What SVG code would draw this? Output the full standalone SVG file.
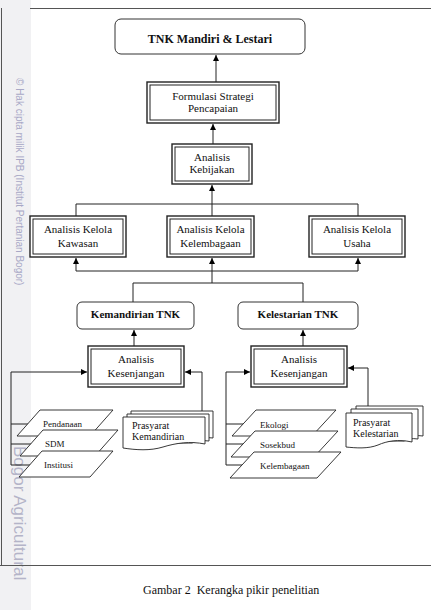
<svg xmlns="http://www.w3.org/2000/svg" width="431" height="610" viewBox="0 0 431 610">
<defs>
<marker id="ah" markerUnits="userSpaceOnUse" markerWidth="7" markerHeight="6" refX="6" refY="3" orient="auto">
<path d="M0,0 L6,3 L0,6 z" fill="#000"/>
</marker>
<style>
.t{font-family:"Liberation Serif","Times New Roman",serif;fill:#111;text-anchor:middle}
.b{font-weight:bold}
.s{font-family:"Liberation Serif","Times New Roman",serif;fill:#111;font-size:9px}
.d{font-family:"Liberation Serif","Times New Roman",serif;fill:#111;font-size:10px}
.o{fill:#fff;stroke:#222;stroke-width:1.4}
.i{fill:none;stroke:#222;stroke-width:1}
.r{fill:#fff;stroke:#333;stroke-width:1}
.c{fill:none;stroke:#222;stroke-width:1}
.p{fill:#fff;stroke:#222;stroke-width:0.9}
</style>
</defs>
<rect width="431" height="610" fill="#fff"/>
<g id="watermark">
<rect x="0" y="0" width="31" height="610" fill="#f1f1f3"/>
<text transform="translate(16,78) rotate(90)" font-family="Liberation Sans,Arial,sans-serif" font-size="10" fill="#a8a8c6">© Hak cipta milik IPB (Institut Pertanian Bogor)</text>
<text transform="translate(14,446) rotate(90)" font-family="Liberation Sans,Arial,sans-serif" font-size="17" fill="#b4b4c8">Bogor Agricultural</text>
</g>
<g id="frame" stroke="#555" stroke-width="1" fill="none">
<line x1="30" y1="8.5" x2="431" y2="8.5"/>
<line x1="1.5" y1="8" x2="1.5" y2="565"/>
<line x1="0" y1="565.5" x2="431" y2="565.5"/>
</g>
<g id="connectors">
<path class="c" d="M216,82 V55" marker-end="url(#ah)"/>
<path class="c" d="M213,144 V124" marker-end="url(#ah)"/>
<path class="c" d="M212,216 V185" marker-end="url(#ah)"/>
<path class="c" d="M76,216 V204 H358 V216"/>
<path class="c" d="M76,271 H358"/>
<path class="c" d="M76,271 V258" marker-end="url(#ah)"/>
<path class="c" d="M358,271 V258" marker-end="url(#ah)"/>
<path class="c" d="M212,283 V258" marker-end="url(#ah)"/>
<path class="c" d="M133,302 V283 H303 V302"/>
<path class="c" d="M134,346 V330" marker-end="url(#ah)"/>
<path class="c" d="M303,346 V330" marker-end="url(#ah)"/>
<path class="c" d="M11,465 V372 H87" marker-end="url(#ah)"/>
<path class="c" d="M11,424 H30 M11,444 H32 M11,465 H32"/>
<path class="c" d="M202,411 V372 H185" marker-end="url(#ah)"/>
<path class="c" d="M226,465 V372 H250" marker-end="url(#ah)"/>
<path class="c" d="M226,424 H245 M226,444 H245 M226,465 H245"/>
<path class="c" d="M368,406 V368 H348" marker-end="url(#ah)"/>
</g>
<g id="n-tnk">
<rect class="r" x="115" y="19" width="190" height="35" rx="6"/>
<text class="t b" x="210" y="43" font-size="12">TNK Mandiri &amp; Lestari</text>
</g>
<g id="n-formulasi">
<rect class="o" x="147" y="82" width="132" height="41"/>
<rect class="i" x="150" y="85" width="126" height="35"/>
<text class="t" x="213" y="100" font-size="11">Formulasi Strategi</text>
<text class="t" x="213" y="112" font-size="11">Pencapaian</text>
</g>
<g id="n-kebijakan">
<rect class="o" x="172" y="144" width="80" height="40"/>
<rect class="i" x="175" y="147" width="74" height="34"/>
<text class="t" x="212" y="161" font-size="11">Analisis</text>
<text class="t" x="212" y="173" font-size="11">Kebijakan</text>
</g>
<g id="n-kawasan">
<rect class="o" x="30" y="216" width="96" height="41"/>
<rect class="i" x="33" y="219" width="90" height="35"/>
<text class="t" x="78" y="233" font-size="11">Analisis Kelola</text>
<text class="t" x="78" y="247" font-size="11">Kawasan</text>
</g>
<g id="n-kelembagaan">
<rect class="o" x="167" y="216" width="87" height="41"/>
<rect class="i" x="170" y="219" width="81" height="35"/>
<text class="t" x="210.5" y="233" font-size="11">Analisis Kelola</text>
<text class="t" x="210.5" y="247" font-size="11">Kelembagaan</text>
</g>
<g id="n-usaha">
<rect class="o" x="309" y="216" width="96" height="41"/>
<rect class="i" x="312" y="219" width="90" height="35"/>
<text class="t" x="357" y="233" font-size="11">Analisis Kelola</text>
<text class="t" x="357" y="247" font-size="11">Usaha</text>
</g>
<g id="n-kemandirian">
<rect class="r" x="77" y="302" width="117" height="27" rx="5"/>
<text class="t b" x="135.5" y="318" font-size="11">Kemandirian TNK</text>
</g>
<g id="n-kelestarian">
<rect class="r" x="238" y="302" width="120" height="27" rx="5"/>
<text class="t b" x="298" y="318" font-size="11">Kelestarian TNK</text>
</g>
<g id="n-kesenjangan-l">
<rect class="o" x="88" y="346" width="96" height="41"/>
<rect class="i" x="91" y="349" width="90" height="35"/>
<text class="t" x="136" y="363" font-size="11">Analisis</text>
<text class="t" x="136" y="377" font-size="11">Kesenjangan</text>
</g>
<g id="n-kesenjangan-r">
<rect class="o" x="251" y="346" width="96" height="41"/>
<rect class="i" x="254" y="349" width="90" height="35"/>
<text class="t" x="299" y="363" font-size="11">Analisis</text>
<text class="t" x="299" y="377" font-size="11">Kesenjangan</text>
</g>
<g id="n-pendanaan">
<path class="p" d="M40,410 H113 L90,436 H17 Z"/>
<text class="s" x="43" y="427">Pendanaan</text>
</g>
<g id="n-sdm">
<path class="p" d="M43,430 H118 L95,456 H20 Z"/>
<text class="s" x="45" y="447">SDM</text>
</g>
<g id="n-institusi">
<path class="p" d="M42,451 H113 L90,477 H19 Z"/>
<text class="s" x="44" y="468">Institusi</text>
</g>
<g id="n-ekologi">
<path class="p" d="M256,410 H336 L312,436 H232 Z"/>
<text class="s" x="260" y="428">Ekologi</text>
</g>
<g id="n-sosekbud">
<path class="p" d="M255,431 H338 L314,457 H231 Z"/>
<text class="s" x="260" y="448">Sosekbud</text>
</g>
<g id="n-kelembagaan2">
<path class="p" d="M254,452 H341 L317,478 H230 Z"/>
<text class="s" x="260" y="469">Kelembagaan</text>
</g>
<g id="n-prasyarat-l">
<path class="p" d="M131,411 H213 V438 C206,437 200,438 196,440 L131,440 Z"/>
<path class="p" d="M127,414 H209 V441 C202,440 196,441 192,443 L127,443 Z"/>
<path class="p" d="M123,417 H205 V444 C190,441 176,443 163,447 C150,451 136,450 123,448 Z"/>
<text class="d" x="132" y="429">Prasyarat</text>
<text class="d" x="132" y="440">Kemandirian</text>
</g>
<g id="n-prasyarat-r">
<path class="p" d="M356,406 H423 V436 C417,435 412,436 409,438 L356,438 Z"/>
<path class="p" d="M351,409 H418 V439 C412,438 407,439 404,441 L351,441 Z"/>
<path class="p" d="M346,413 H412 V442 C398,439 387,441 378,445 C368,449 356,448 346,447 Z"/>
<text class="d" x="353" y="426">Prasyarat</text>
<text class="d" x="353" y="437">Kelestarian</text>
</g>
<text id="caption" x="143" y="594" font-family="Liberation Serif,Times New Roman,serif" font-size="12" fill="#111" xml:space="preserve">Gambar 2  Kerangka pikir penelitian</text>
</svg>
